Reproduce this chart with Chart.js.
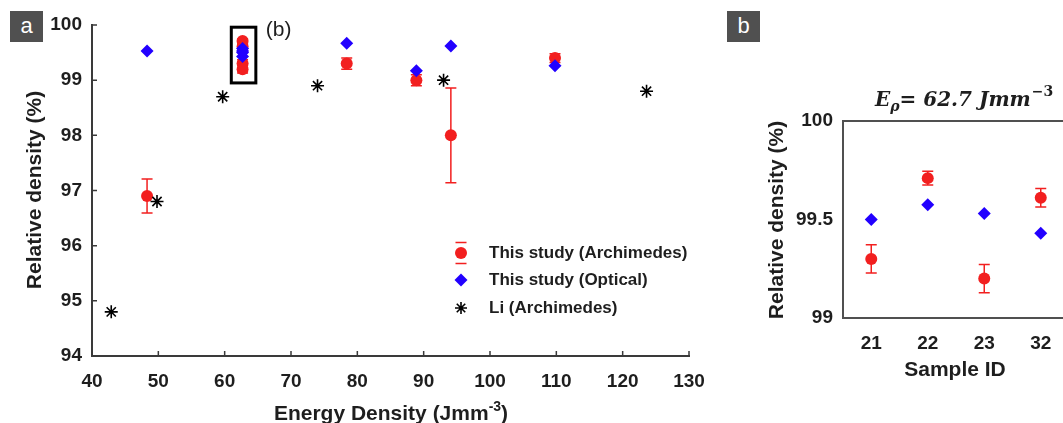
<!DOCTYPE html>
<html>
<head>
<meta charset="utf-8">
<script src="https://cdn.jsdelivr.net/npm/chart.js@4.4.1/dist/chart.umd.min.js"></script>
<style>
html, body { margin:0; padding:0; background:#fff; overflow:hidden; width:1063px; height:423px; }
#chartA { position:absolute; left:0; top:0; }
#chartB { position:absolute; left:700px; top:0; }
.tag { position:absolute; top:11px; width:33px; height:31px; background:#505050; color:#fff;
  font:22px "Liberation Sans", Arial, sans-serif; text-align:center; line-height:29px; }
</style>
</head>
<body>
<canvas id="chartA" width="720" height="423"></canvas>
<canvas id="chartB" width="380" height="423"></canvas>
<div class="tag" style="left:10px">a</div>
<div class="tag" style="left:727px">b</div>
<script>
// ---- panel a data ----
var archX   = [48.3, 62.7, 62.7, 62.7, 62.7, 78.4, 88.9, 94.1, 109.8];
var archY   = [96.9, 99.3, 99.71, 99.2, 99.61, 99.3, 99.0, 98.0, 99.4];
var archErr = [0.31, 0.07, 0.035, 0.07, 0.045, 0.1, 0.1, 0.86, 0.08];
var optX    = [48.3, 62.7, 62.7, 62.7, 62.7, 78.4, 88.9, 94.1, 109.8];
var optY    = [99.53, 99.5, 99.575, 99.53, 99.43, 99.67, 99.17, 99.62, 99.26];
var liX     = [42.9, 49.8, 59.7, 74.0, 93.0, 123.6];
var liY     = [94.8, 96.8, 98.7, 98.9, 99.0, 98.8];
var zoomBox = { xMin: 61.0, xMax: 64.7, yMin: 98.95, yMax: 99.96 };
var legendLabels = ['This study (Archimedes)', 'This study (Optical)', 'Li (Archimedes)'];

// ---- panel b data ----
var sampleIds = ['21', '22', '23', '32'];
var archB     = [99.3, 99.71, 99.2, 99.61];
var archBErr  = [0.072, 0.035, 0.072, 0.047];
var optB      = [99.5, 99.575, 99.53, 99.43];

var RED = '#f21f1f', BLUE = '#2200ff', AXIS = '#3a3a3a', TXT = '#1e1e1e';
var SANS = '"Liberation Sans", Arial, sans-serif';

function pts(xs, ys) {
  return xs.map(function(x, i){ return { x: x, y: ys[i] }; });
}

// error bars drawn under the markers, ends from the y scale
var errorBars = {
  id: 'errorBars',
  beforeDatasetsDraw: function(chart) {
    var ctx = chart.ctx, ys = chart.scales.y;
    chart.data.datasets.forEach(function(ds, i) {
      if (!ds.errors) return;
      var meta = chart.getDatasetMeta(i);
      ctx.save();
      ctx.strokeStyle = ds.borderColor;
      ctx.lineWidth = 1.5;
      meta.data.forEach(function(el, j) {
        var v = ds.data[j].y, e = ds.errors[j];
        var top = ys.getPixelForValue(v + e), bot = ys.getPixelForValue(v - e);
        ctx.beginPath();
        ctx.moveTo(el.x, top); ctx.lineTo(el.x, bot);
        ctx.moveTo(el.x - 5.5, top); ctx.lineTo(el.x + 5.5, top);
        ctx.moveTo(el.x - 5.5, bot); ctx.lineTo(el.x + 5.5, bot);
        ctx.stroke();
      });
      ctx.restore();
    });
  }
};

function circle(ctx, x, y, r, c) {
  ctx.fillStyle = c; ctx.beginPath(); ctx.arc(x, y, r, 0, Math.PI * 2); ctx.fill();
}
function diamond(ctx, x, y, r, c) {
  ctx.fillStyle = c; ctx.beginPath();
  ctx.moveTo(x, y - r); ctx.lineTo(x + r, y); ctx.lineTo(x, y + r); ctx.lineTo(x - r, y);
  ctx.closePath(); ctx.fill();
}
function asterisk(ctx, x, y, r) {
  ctx.strokeStyle = '#000'; ctx.lineWidth = 1.6; ctx.beginPath();
  for (var k = 0; k < 4; k++) {
    var a = k * Math.PI / 4;
    ctx.moveTo(x - r * Math.cos(a), y - r * Math.sin(a));
    ctx.lineTo(x + r * Math.cos(a), y + r * Math.sin(a));
  }
  ctx.stroke();
}

var decorA = {
  id: 'decorA',
  afterDraw: function(chart) {
    var ctx = chart.ctx, xs = chart.scales.x, ys = chart.scales.y, a = chart.chartArea;
    ctx.save();
    // inward ticks
    ctx.strokeStyle = AXIS; ctx.lineWidth = 1.5; ctx.beginPath();
    xs.ticks.forEach(function(t){ var p = xs.getPixelForValue(t.value); ctx.moveTo(p, a.bottom); ctx.lineTo(p, a.bottom - 5); });
    ys.ticks.forEach(function(t){ var p = ys.getPixelForValue(t.value); ctx.moveTo(a.left, p); ctx.lineTo(a.left + 5, p); });
    ctx.stroke();

    // box around the 62.7 cluster
    ctx.strokeStyle = '#000'; ctx.lineWidth = 3;
    var bx1 = xs.getPixelForValue(zoomBox.xMin), bx2 = xs.getPixelForValue(zoomBox.xMax);
    var by1 = ys.getPixelForValue(zoomBox.yMax), by2 = ys.getPixelForValue(zoomBox.yMin);
    ctx.strokeRect(bx1, by1, bx2 - bx1, by2 - by1);
    ctx.fillStyle = TXT; ctx.font = '21px ' + SANS; ctx.textBaseline = 'middle'; ctx.textAlign = 'left';
    ctx.fillText('(b)', bx2 + 10, 30);

    // y title
    ctx.save();
    ctx.translate(35, 190); ctx.rotate(-Math.PI / 2);
    ctx.font = 'bold 21px ' + SANS; ctx.textAlign = 'center'; ctx.textBaseline = 'middle';
    ctx.fillText('Relative density (%)', 0, 0);
    ctx.restore();

    // x title with superscript
    ctx.font = 'bold 21px ' + SANS;
    var main = 'Energy Density (Jmm', sup = '-3', tail = ')';
    var w1 = ctx.measureText(main).width, w3 = ctx.measureText(tail).width;
    ctx.font = 'bold 14px ' + SANS;
    var w2 = ctx.measureText(sup).width;
    var x0 = 391 - (w1 + w2 + w3) / 2, base = 420;
    ctx.textBaseline = 'alphabetic'; ctx.textAlign = 'left';
    ctx.font = 'bold 21px ' + SANS; ctx.fillText(main, x0, base);
    ctx.font = 'bold 14px ' + SANS; ctx.fillText(sup, x0 + w1, base - 9);
    ctx.font = 'bold 21px ' + SANS; ctx.fillText(tail, x0 + w1 + w2, base);

    // legend
    var lx = 461, rows = [253, 280, 308];
    circle(ctx, lx, rows[0], 6, RED);
    ctx.strokeStyle = RED; ctx.lineWidth = 1.5; ctx.beginPath();
    ctx.moveTo(lx - 5.5, rows[0] - 10.5); ctx.lineTo(lx + 5.5, rows[0] - 10.5);
    ctx.moveTo(lx - 5.5, rows[0] + 10.5); ctx.lineTo(lx + 5.5, rows[0] + 10.5);
    ctx.stroke();
    diamond(ctx, lx, rows[1], 6.5, BLUE);
    asterisk(ctx, lx, rows[2], 6);
    ctx.fillStyle = TXT; ctx.font = 'bold 17px ' + SANS; ctx.textBaseline = 'middle';
    legendLabels.forEach(function(l, i){ ctx.fillText(l, 489, rows[i]); });
    ctx.restore();
  }
};

new Chart(document.getElementById('chartA'), {
  type: 'scatter',
  data: {
    datasets: [
      { label: legendLabels[0], data: pts(archX, archY), errors: archErr, order: 2,
        pointStyle: 'circle', pointRadius: 6, backgroundColor: RED, borderColor: RED, borderWidth: 0 },
      { label: legendLabels[1], data: pts(optX, optY), order: 1,
        pointStyle: 'rectRot', pointRadius: 6.5, backgroundColor: BLUE, borderColor: BLUE, borderWidth: 0 },
      { label: legendLabels[2], data: pts(liX, liY), order: 0,
        pointStyle: 'star', pointRadius: 6.5, backgroundColor: '#000', borderColor: '#000', borderWidth: 1.6 }
    ]
  },
  options: {
    responsive: false,
    animation: false,
    layout: { padding: { left: 0, top: 25, right: 31, bottom: 0 } },
    plugins: { legend: { display: false }, tooltip: { enabled: false } },
    scales: {
      x: {
        type: 'linear', min: 40, max: 130,
        grid: { display: false, drawTicks: false },
        border: { color: AXIS, width: 2 },
        ticks: { stepSize: 10, color: TXT, padding: 14, font: { family: SANS, size: 19, weight: 'bold' } },
        afterFit: function(s){ s.height = 67; }
      },
      y: {
        min: 94, max: 100,
        grid: { display: false, drawTicks: false },
        border: { color: AXIS, width: 2 },
        ticks: { stepSize: 1, color: TXT, padding: 10, font: { family: SANS, size: 19, weight: 'bold' } },
        afterFit: function(s){ s.width = 92; }
      }
    }
  },
  plugins: [errorBars, decorA]
});

var decorB = {
  id: 'decorB',
  afterDraw: function(chart) {
    var ctx = chart.ctx, a = chart.chartArea;
    ctx.save();
    ctx.strokeStyle = '#505050'; ctx.lineWidth = 2;
    ctx.strokeRect(a.left, a.top, a.right - a.left, a.bottom - a.top);

    // y title
    ctx.save();
    ctx.translate(77, 220); ctx.rotate(-Math.PI / 2);
    ctx.fillStyle = TXT; ctx.font = 'bold 21px ' + SANS; ctx.textAlign = 'center'; ctx.textBaseline = 'middle';
    ctx.fillText('Relative density (%)', 0, 0);
    ctx.restore();

    // x title
    ctx.fillStyle = TXT; ctx.font = 'bold 21px ' + SANS; ctx.textAlign = 'center'; ctx.textBaseline = 'middle';
    ctx.fillText('Sample ID', 255, 370);

    // panel title: E_rho = 62.7 Jmm^-3
    var serif = '"DejaVu Serif", "Liberation Serif", serif';
    var big = 'italic bold 20px ' + serif, small = 'italic bold 14px ' + serif;
    var x = 175, base = 106;
    ctx.textAlign = 'left'; ctx.textBaseline = 'alphabetic';
    ctx.font = big; ctx.fillText('E', x, base); x += ctx.measureText('E').width;
    ctx.font = small; ctx.fillText('\u03C1', x, base + 5); x += ctx.measureText('\u03C1').width;
    ctx.font = big; ctx.fillText('= 62.7 Jmm', x, base); x += ctx.measureText('= 62.7 Jmm').width;
    ctx.font = 'bold 14px ' + serif; ctx.fillText('\u22123', x + 1, base - 10);
    ctx.restore();
  }
};

new Chart(document.getElementById('chartB'), {
  type: 'scatter',
  data: {
    labels: sampleIds,
    datasets: [
      { label: legendLabels[0], data: sampleIds.map(function(s, i){ return { x: s, y: archB[i] }; }),
        errors: archBErr, order: 1,
        pointStyle: 'circle', pointRadius: 6, backgroundColor: RED, borderColor: RED, borderWidth: 0 },
      { label: legendLabels[1], data: sampleIds.map(function(s, i){ return { x: s, y: optB[i] }; }), order: 0,
        pointStyle: 'rectRot', pointRadius: 6.5, backgroundColor: BLUE, borderColor: BLUE, borderWidth: 0 }
    ]
  },
  options: {
    responsive: false,
    animation: false,
    layout: { padding: { left: 0, top: 121, right: 11, bottom: 0 } },
    plugins: { legend: { display: false }, tooltip: { enabled: false } },
    scales: {
      x: {
        type: 'category', offset: true,
        grid: { display: false, drawTicks: false },
        border: { display: false },
        ticks: { color: TXT, padding: 14, font: { family: SANS, size: 19, weight: 'bold' } },
        afterFit: function(s){ s.height = 105; }
      },
      y: {
        min: 99, max: 100,
        grid: { display: false, drawTicks: false },
        border: { display: false },
        ticks: { stepSize: 0.5, color: TXT, padding: 10, font: { family: SANS, size: 19, weight: 'bold' },
          callback: function(v){ return String(Math.round(v * 10) / 10); } },
        afterFit: function(s){ s.width = 143; }
      }
    }
  },
  plugins: [errorBars, decorB]
});
</script>
</body>
</html>
